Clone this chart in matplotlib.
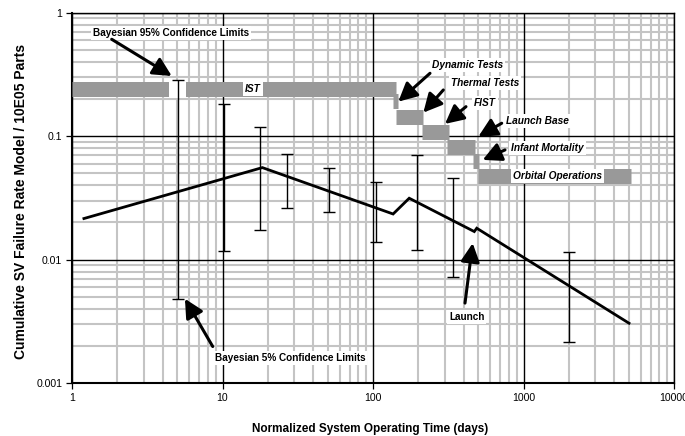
import matplotlib
matplotlib.use('Agg')
import matplotlib.pyplot as plt
from matplotlib.patches import Rectangle
from matplotlib.ticker import LogLocator, NullFormatter, FixedLocator, FixedFormatter

plt.rcParams['font.family'] = ['Liberation Sans', 'DejaVu Sans']

# ---- data ----
model_days = [1.2, 18.4, 136, 174, 471, 489, 5025]
model_rate = [0.0215, 0.0556, 0.0234, 0.0314, 0.01686, 0.01795, 0.00305]

ci_days = [5.04, 10.2, 17.7, 27.0, 51.0, 104.7, 197, 342, 2015]
ci_upper = [0.284, 0.183, 0.119, 0.0722, 0.0556, 0.0423, 0.070, 0.0456, 0.01154]
ci_lower = [0.00483, 0.0117, 0.0174, 0.0261, 0.0245, 0.0138, 0.0119, 0.0072, 0.00213]

phase_names = ['IST', 'Dynamic Tests', 'Thermal Tests', 'FIST', 'Launch Base',
               'Infant Mortality', 'Orbital Operations']
phase_start = [1, 136.4, 142, 212.6, 311.6, 464, 501]
phase_end = [142, 147.5, 216, 320, 476, 506, 5180]
phase_rate = [0.24, 0.191, 0.1417, 0.1078, 0.0822, 0.0627, 0.0476]

x_ticks = [1, 10, 100, 1000, 10000]
x_tick_labels = ['1', '10', '100', '1000', '10000']
y_ticks = [0.001, 0.01, 0.1, 1]
y_tick_labels = ['0.001', '0.01', '0.1', '1']

# ---- figure ----
fig = plt.figure(figsize=(6.85, 4.36), dpi=100)
ax = fig.add_axes([72 / 685, 53 / 436, 602 / 685, 370.3 / 436])
ax.set_xscale('log')
ax.set_yscale('log')
ax.set_xlim(1, 10000)
ax.set_ylim(0.001, 1)

ax.xaxis.set_major_locator(FixedLocator(x_ticks))
ax.xaxis.set_major_formatter(FixedFormatter(x_tick_labels))
ax.yaxis.set_major_locator(FixedLocator(y_ticks))
ax.yaxis.set_major_formatter(FixedFormatter(y_tick_labels))
ax.xaxis.set_minor_locator(LogLocator(base=10, subs=range(2, 10), numticks=20))
ax.yaxis.set_minor_locator(LogLocator(base=10, subs=range(2, 10), numticks=20))
ax.xaxis.set_minor_formatter(NullFormatter())
ax.yaxis.set_minor_formatter(NullFormatter())

ax.grid(which='minor', color='#c4c4c4', lw=1.5)
ax.grid(which='major', visible=False)
ax.set_axisbelow(True)
for xv in x_ticks:
    ax.axvline(xv, color='black', lw=1.0, zorder=1)
for yv in y_ticks:
    ax.axhline(yv, color='black', lw=1.0, zorder=1)
ax.tick_params(which='minor', length=0)
ax.tick_params(which='major', length=4, width=0.9, labelsize=7.6, color='black', pad=3)
for s in ax.spines.values():
    s.set_linewidth(1.0)
    s.set_zorder(1.5)
ax.spines['left'].set_linewidth(1.5)
ax.spines['bottom'].set_linewidth(1.5)

# phase bands
bands = ax.hlines(phase_rate, phase_start, phase_end, colors='#999999', lw=10.8, zorder=2)
bands.set_capstyle('butt')

# white gap in IST band near first limit bar
ax.add_patch(Rectangle((4.43, 0.205), 5.69 - 4.43, 0.281 - 0.205, facecolor='white',
                       edgecolor='none', zorder=2.5))

# confidence limits
ax.vlines(ci_days, ci_lower, ci_upper, colors='black', lw=1.0, zorder=3)
ax.plot(ci_days, ci_upper, ls='none', marker='_', ms=8, mew=1.0, color='black', zorder=3)
ax.plot(ci_days, ci_lower, ls='none', marker='_', ms=8, mew=1.0, color='black', zorder=3)

# model line
ax.plot(model_days, model_rate, color='black', lw=2.0, zorder=4, solid_joinstyle='miter')

# ---- labels ----
box = dict(boxstyle='square,pad=0.2', facecolor='white', edgecolor='none')
lab_bold = dict(fontsize=7.2, fontweight='bold', ha='center', va='center', bbox=box, zorder=6)
lab_it = dict(fontsize=7.3, fontweight='bold', style='italic', ha='center', va='center',
              bbox=box, zorder=6)
arrow = dict(arrowstyle='-|>,head_length=0.75,head_width=0.38', color='black', lw=2.2,
             shrinkA=0, shrinkB=0, mutation_scale=15)

ax.text(4.55, 0.691, 'Bayesian 95% Confidence Limits', **lab_bold)
ax.annotate('', xy=(4.60, 0.307), xytext=(1.836, 0.609), arrowprops=arrow, zorder=7)

ax.text(28.1, 0.001609, 'Bayesian 5% Confidence Limits', **lab_bold)
ax.annotate('', xy=(5.63, 0.00481), xytext=(8.61, 0.001975), arrowprops=arrow, zorder=7)

ax.text(419.4, 0.003455, 'Launch', **lab_bold)
ax.annotate('', xy=(459.7, 0.01358), xytext=(408.6, 0.00444), arrowprops=arrow, zorder=7)

ax.text(15.95, phase_rate[0], phase_names[0], **lab_it)

ax.text(424.6, 0.377, phase_names[1], **lab_it)
ax.annotate('', xy=(147.3, 0.1903), xytext=(239.2, 0.323), arrowprops=arrow, zorder=7)

ax.text(554.8, 0.268, phase_names[2], **lab_it)
ax.annotate('', xy=(216, 0.155), xytext=(293.2, 0.2366), arrowprops=arrow, zorder=7)

ax.text(554.8, 0.1847, phase_names[3], **lab_it)
ax.annotate('', xy=(300.9, 0.1256), xytext=(414.8, 0.1733), arrowprops=arrow, zorder=7)

ax.text(1243, 0.1335, phase_names[4], **lab_it)
ax.annotate('', xy=(500.9, 0.0991), xytext=(716.5, 0.1272), arrowprops=arrow, zorder=7)

ax.text(1444, 0.0798, phase_names[5], **lab_it)
ax.annotate('', xy=(535.6, 0.0642), xytext=(753.5, 0.0773), arrowprops=arrow, zorder=7)

ax.text(1683, phase_rate[6], phase_names[6], **lab_it)

ax.set_xlabel('Normalized System Operating Time (days)', fontsize=8.5, fontweight='bold',
              va='center')
ax.set_ylabel('Cumulative SV Failure Rate Model / 10E05 Parts', fontsize=10, fontweight='bold',
              va='center')
ax.xaxis.set_label_coords(0.495, -0.124)
ax.yaxis.set_label_coords(-0.084, 0.49)

fig.savefig('out.png', dpi=100)
